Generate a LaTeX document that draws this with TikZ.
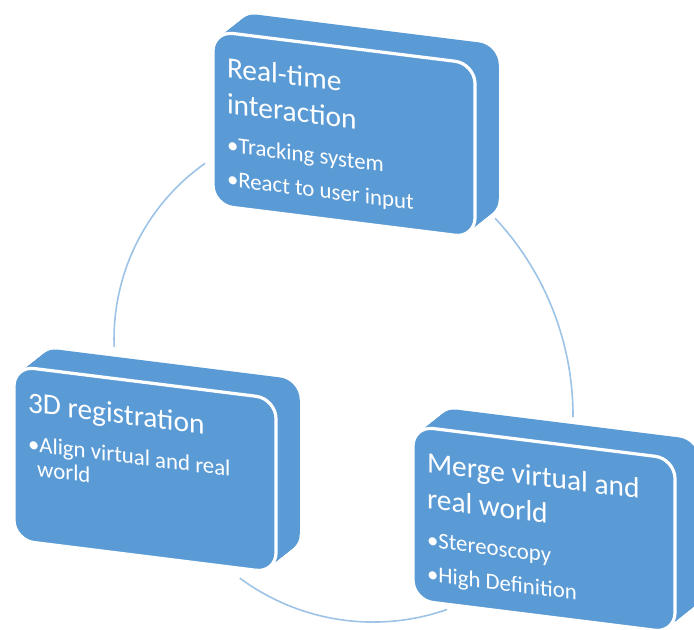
\documentclass[tikz,border=0pt]{standalone}
\usepackage{fontspec}
\setmainfont{Carlito}
\definecolor{boxblue}{HTML}{5B9BD5}
\definecolor{ringblue}{HTML}{9DC3E6}
\newcommand{\ttl}[1]{{\fontsize{14.7}{18}\selectfont #1\par}\vspace{2.5pt}}
\newcommand{\itm}{\par\hangindent=4.6pt\hangafter=1\noindent\textbullet}
\newcommand{\boxtext}[1]{\parbox[c][63pt][t]{117pt}{\raggedright\setlength{\parskip}{5pt}#1}}
\begin{document}
\begin{tikzpicture}[x=0.5pt, y=-0.5pt,
  face/.style={fill=boxblue, rounded corners=10pt},
  front/.style={face, draw=white, line width=1.6pt, transform shape, text=white, inner xsep=7pt, inner ysep=12pt, minimum width=131pt, minimum height=87pt, font=\fontsize{11.4}{12}\selectfont},
  ring/.style={ringblue, line width=0.8pt}]
\useasboundingbox (0,0) rectangle (694,629);
\coordinate (rt-reg) at (205.1,163.3);
\coordinate (rt-merge) at (495.1,218.2);
\coordinate (reg-merge) at (239.8,578.1);
\draw[ring] (rt-reg) arc[start angle=234.8, end angle=177.9, radius=215];
\draw[ring] (rt-merge) arc[start angle=-43, end angle=0.2, radius=290];
\draw[ring] (reg-merge) arc[start angle=126.5, end angle=70.7, radius=224];
\begin{scope}[shift={(213,31)}, yslant=-0.125]
\foreach \d in {0,0.05,...,1} \fill[face] (25*\d,-23*\d) rectangle ++(262,174);
\node[front] (rt) at (131,87) {\boxtext{\ttl{Real-time\\interaction}\itm Tracking system\itm React to user input}};
\end{scope}
\begin{scope}[shift={(14,366)}, yslant=-0.125]
\foreach \d in {0,0.05,...,1} \fill[face] (25*\d,-23*\d) rectangle ++(262,174);
\node[front] (reg) at (131,87) {\boxtext{\ttl{3D registration}\itm Align virtual and real world}};
\end{scope}
\begin{scope}[shift={(413,426)}, yslant=-0.125]
\foreach \d in {0,0.05,...,1} \fill[face] (25*\d,-23*\d) rectangle ++(262,174);
\node[front] (merge) at (131,87) {\boxtext{\ttl{Merge virtual and\\real world}\itm Stereoscopy\itm High Definition}};
\end{scope}
\end{tikzpicture}
\end{document}
